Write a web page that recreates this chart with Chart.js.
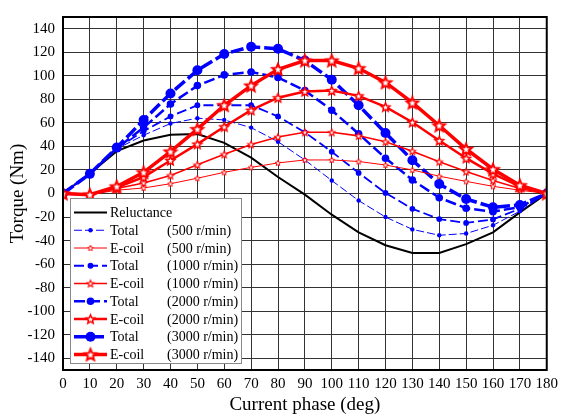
<!DOCTYPE html>
<html>
<head>
<meta charset="utf-8">
<script src="https://cdn.jsdelivr.net/npm/chart.js@4.4.1/dist/chart.umd.min.js"></script>
<style>
    html, body { margin: 0; padding: 0; background: #fff; }
    #wrap { width: 563px; height: 419px; }
</style>
</head>
<body>
<div id="wrap"><canvas id="chart-torque" width="563" height="419"></canvas></div>
<script>
// Current phase (deg)
const phases = [0, 10, 20, 30, 40, 50, 60, 70, 80, 90, 100, 110, 120, 130, 140, 150, 160, 170, 180];
const yTicks = [-140, -120, -100, -80, -60, -40, -20, 0, 20, 40, 60, 80, 100, 120, 140];

// Torque (Nm)
const reluctance = [0, 17, 36, 45, 50, 50.5, 43, 30.5, 14, -1, -18, -33, -44, -50.5, -50.5, -43, -33, -16, 0];

const total500 = [0, 17, 38, 49.5, 59.5, 64, 62.5, 56, 44, 28.5, 11, -6, -20, -30.5, -35.5, -34, -27, -15, 0];
const total1000 = [0, 17, 38.5, 53, 65.5, 75, 75, 75, 65.5, 52, 35.5, 17.5, 0.5, -13, -21.7, -25, -22, -13, 0];
const total2000 = [0, 17, 38.5, 56, 76, 91.7, 100.8, 103.3, 98.6, 87.5, 70.8, 50.8, 30, 11.5, -3.6, -12.5, -15.5, -11.5, 0];
const total3000 = [0, 16.7, 39, 62.5, 85, 104.7, 118.6, 124.7, 123, 113, 96.7, 75, 51.4, 28.3, 8, -4.7, -11.7, -9.7, 0];

const ecoil500 = [0, -1, 2.8, 4.7, 8.3, 13, 18, 22.2, 26, 28.5, 28.5, 27.2, 24.2, 20, 14.7, 10.3, 6.1, 2.8, 0];
const ecoil1000 = [0, -1, 4.2, 9, 15.3, 24.4, 33.3, 41.7, 48, 52, 52, 49, 44, 36, 27, 18.6, 11, 4.2, 0];
const ecoil2000 = [0, -1, 5, 14, 28, 42, 56.7, 70.8, 81.4, 86.7, 87.5, 83, 73.6, 60.6, 45, 30, 16.7, 6, 0];
const ecoil3000 = [0, -1, 6, 18, 35.6, 54.7, 75, 91.7, 105.6, 113, 113, 106.4, 94.4, 77.2, 57.8, 37.8, 20.6, 7, 0];

const BLUE = '#0000ff';
const RED = '#ff0000';
const SERIF = "'Liberation Serif', 'Times New Roman', serif";

function pts(vals) {
    return phases.map((p, i) => ({ x: p, y: vals[i] }));
}

// hollow 5-point star marker
function makeStar(r, lw) {
    const size = Math.ceil(2 * r + lw * 2 + 2);
    const c = document.createElement('canvas');
    c.width = size;
    c.height = size;
    const g = c.getContext('2d');
    const cx = size / 2, cy = size / 2 + r * 0.1;
    g.beginPath();
    for (let k = 0; k < 10; k++) {
        const rr = k % 2 === 0 ? r : r * 0.45;
        const a = -Math.PI / 2 + k * Math.PI / 5;
        const px = cx + rr * Math.cos(a), py = cy + rr * Math.sin(a);
        if (k === 0) g.moveTo(px, py); else g.lineTo(px, py);
    }
    g.closePath();
    g.fillStyle = '#fff';
    g.fill();
    g.lineWidth = lw;
    g.lineJoin = 'miter';
    g.strokeStyle = RED;
    g.stroke();
    return c;
}

function totalSet(label, vals, lw, r, dash) {
    return {
        label: label, data: pts(vals),
        borderColor: BLUE, backgroundColor: BLUE,
        borderWidth: lw, borderDash: dash,
        pointStyle: 'circle', pointRadius: r, pointBorderWidth: 0,
        pointBackgroundColor: BLUE
    };
}

function ecoilSet(label, vals, lw, r, slw) {
    return {
        label: label, data: pts(vals),
        borderColor: RED, backgroundColor: RED,
        borderWidth: lw,
        pointStyle: makeStar(r, slw), pointRadius: r
    };
}

// first in list is drawn on top
const datasets = [
    ecoil3000 && ecoilSet('E-coil|(3000 r/min)', ecoil3000, 3.5, 6, 2),
    ecoilSet('E-coil|(2000 r/min)', ecoil2000, 2.5, 4.6, 1.5),
    ecoilSet('E-coil|(1000 r/min)', ecoil1000, 1.6, 3.6, 1.1),
    ecoilSet('E-coil|(500 r/min)', ecoil500, 1, 3, 0.9),
    totalSet('Total|(3000 r/min)', total3000, 3.5, 5, [13, 4]),
    totalSet('Total|(2000 r/min)', total2000, 2.5, 3.8, [11, 4]),
    totalSet('Total|(1000 r/min)', total1000, 1.8, 2.9, [10, 4]),
    totalSet('Total|(500 r/min)', total500, 1, 2.2, [8, 3]),
    {
        label: 'Reluctance|', data: pts(reluctance),
        borderColor: '#000', backgroundColor: '#000',
        borderWidth: 2, pointRadius: 0
    }
];

const legendOrder = [8, 7, 3, 6, 2, 5, 1, 4, 0];

const framePlugin = {
    id: 'frame',
    afterDraw(chart) {
        const ctx = chart.ctx, a = chart.chartArea;
        ctx.save();
        ctx.strokeStyle = '#000';
        ctx.lineWidth = 2;
        ctx.strokeRect(a.left, a.top, a.right - a.left, a.bottom - a.top);

        // legend box
        const bx = 70.5, by = 198.5, bw = 171, bh = 165;
        ctx.fillStyle = '#fff';
        ctx.fillRect(bx, by, bw, bh);
        ctx.strokeStyle = '#8a8a8a';
        ctx.lineWidth = 1;
        ctx.strokeRect(bx, by, bw, bh);

        ctx.font = '14px ' + SERIF;
        ctx.textBaseline = 'middle';
        ctx.textAlign = 'left';
        legendOrder.forEach((idx, i) => {
            const ds = chart.data.datasets[idx];
            const y = 212.5 + i * 17.75;
            ctx.strokeStyle = ds.borderColor;
            ctx.lineWidth = ds.borderWidth;
            ctx.setLineDash(ds.borderDash || []);
            ctx.beginPath();
            ctx.moveTo(74, y);
            ctx.lineTo(107, y);
            ctx.stroke();
            ctx.setLineDash([]);
            if (ds.pointRadius > 0) {
                if (ds.pointStyle === 'circle') {
                    ctx.fillStyle = ds.pointBackgroundColor;
                    ctx.beginPath();
                    ctx.arc(90.5, y, ds.pointRadius, 0, Math.PI * 2);
                    ctx.fill();
                } else {
                    const img = ds.pointStyle;
                    ctx.drawImage(img, 90.5 - img.width / 2, y - img.height / 2);
                }
            }
            const parts = ds.label.split('|');
            ctx.fillStyle = '#000';
            ctx.fillText(parts[0], 110, y + 1);
            if (parts[1]) ctx.fillText(parts[1], 167, y + 1);
        });
        ctx.restore();
    }
};

const ctx = document.getElementById('chart-torque').getContext('2d');
new Chart(ctx, {
    type: 'line',
    data: { datasets: datasets },
    options: {
        responsive: false,
        animation: false,
        layout: { padding: { top: 10, right: 15, left: 0, bottom: 0 } },
        plugins: { legend: { display: false }, tooltip: { enabled: false } },
        elements: { line: { tension: 0 } },
        scales: {
            x: {
                type: 'linear', min: 0, max: 180,
                afterFit: (s) => { s.height = 49; },
                ticks: {
                    stepSize: 10, autoSkip: false, maxRotation: 0, padding: 5,
                    color: '#000', font: { family: SERIF, size: 15 }
                },
                grid: { color: '#333', lineWidth: 1, drawTicks: false },
                border: { color: '#000', width: 2 },
                title: {
                    display: true, text: 'Current phase (deg)', color: '#000',
                    font: { family: SERIF, size: 19 }, padding: { top: 0, bottom: 3 }
                }
            },
            y: {
                min: -150, max: 150,
                afterFit: (s) => { s.width = 63; },
                afterBuildTicks: (s) => { s.ticks = yTicks.map(v => ({ value: v })); },
                ticks: {
                    padding: 8, color: '#000', font: { family: SERIF, size: 15 }
                },
                grid: { color: '#333', lineWidth: 1, drawTicks: false },
                border: { color: '#000', width: 2 },
                title: {
                    display: true, text: 'Torque (Nm)', color: '#000',
                    font: { family: SERIF, size: 19 }, padding: { top: 7, bottom: 0 }
                }
            }
        }
    },
    plugins: [framePlugin]
});
</script>
</body>
</html>
